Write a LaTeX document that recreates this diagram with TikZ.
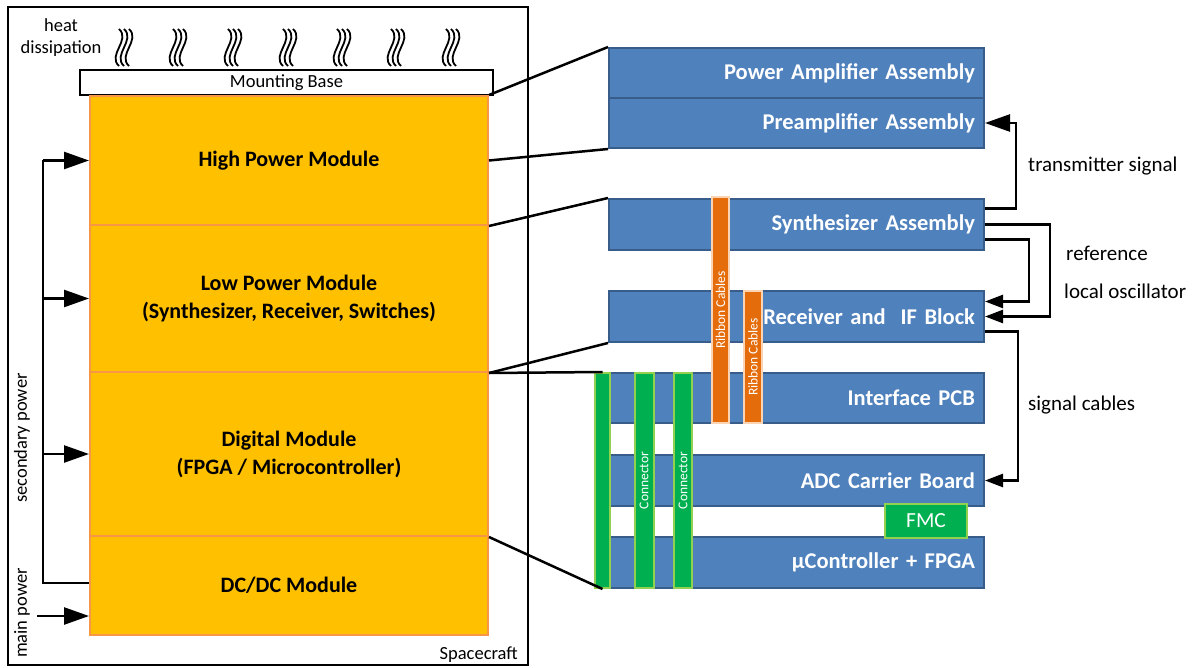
\documentclass[tikz,border=0pt]{standalone}
\usepackage{fontspec}
\setmainfont{Carlito}
\usetikzlibrary{arrows.meta}
\definecolor{modfill}{HTML}{FFC000}
\definecolor{modline}{HTML}{F79646}
\definecolor{boardfill}{HTML}{4F81BD}
\definecolor{boardline}{HTML}{385D8A}
\definecolor{confill}{HTML}{00B050}
\definecolor{conline}{HTML}{92D050}
\definecolor{ribfill}{HTML}{E46C0A}
\definecolor{ribline}{HTML}{FBD4B4}
\begin{document}
\begin{tikzpicture}[x=1pt,y=-1pt,
  module/.style={draw=modline, fill=modfill, line width=2pt, minimum width=398pt, inner sep=0pt, align=center, font=\bfseries\fontsize{22}{28}\selectfont},
  board/.style={draw=boardline, fill=boardfill, line width=2pt, text width=357pt, align=right, inner xsep=9pt, inner ysep=0pt, minimum height=50pt, text=white, font=\bfseries\fontsize{22.5}{26}\selectfont},
  conbar/.style={draw=conline, fill=confill, line width=2pt, minimum height=215pt, inner sep=0pt},
  ribbar/.style={draw=ribline, fill=ribfill, line width=2pt, inner sep=0pt},
  rottext/.style={rotate=90, text=white, inner sep=0pt, font=\fontsize{13.5}{16}\selectfont},
  wire/.style={line width=2.5pt},
  arrL/.style={wire, -{Triangle[length=25pt,width=17pt]}},
  arrS/.style={wire, -{Triangle[length=18pt,width=13pt]}},
  lbl/.style={inner sep=0pt, font=\fontsize{21}{24}\selectfont},
  smalllbl/.style={inner sep=0pt, align=center, font=\fontsize{18.5}{22}\selectfont},
  heatline/.style={line width=1.8pt}
]
\useasboundingbox (0,0) rectangle (1193,668);

% spacecraft box
\node[draw, line width=1.5pt, minimum width=520pt, minimum height=658pt, inner sep=0pt] (sc) at (268,336) {};
\node[smalllbl, anchor=base east] (sclbl) at (518,659) {Spacecraft};

% heat dissipation
\node[smalllbl] (heat) at (61,38) {heat\\dissipation};
\foreach \gx in {124,178,233,288,342,396,451}
  \foreach \d in {-5,0,5}
    \draw[heatline] (\gx+\d,29) .. controls (\gx+\d+12,40) and (\gx+\d-12,55) .. (\gx+\d,66);

% mounting base
\node[draw, line width=1.5pt, fill=white, minimum width=413pt, minimum height=25pt, inner sep=0pt, font=\fontsize{18.5}{22}\selectfont] (mb) at (286.5,82.5) {Mounting Base};

% modules
\node[module, minimum height=129pt] (hpm) at (289,160.5) {High Power Module};
\node[module, minimum height=147pt] (lpm) at (289,298.5) {Low Power Module\\(Synthesizer, Receiver, Switches)};
\node[module, minimum height=164pt] (dm) at (289,454) {Digital Module\\(FPGA / Microcontroller)};
\node[module, minimum height=99pt] (dc) at (289,585.5) {DC/DC Module};

% power distribution
\coordinate (bt) at (43,160.5);
\coordinate (bb) at (43,583);
\coordinate (mp) at (37,616);
\draw[wire] (bt) -- (bb) -- (bb -| dc.west);
\draw[arrL] (bt) -- (hpm.west);
\draw[arrL] (bt |- lpm.west) -- (lpm.west);
\draw[arrL] (bt |- dm.west) -- (dm.west);
\draw[arrL] (mp) -- (mp -| dc.west);
\node[smalllbl, rotate=90] (secp) at (22,438) {secondary power};
\node[smalllbl, rotate=90] (mainp) at (22,613) {main power};

% boards
\node[board] (pa) at (796.5,73) {Power Amplifier Assembly};
\node[board] (pre) at (796.5,123) {Preamplifier Assembly};
\node[board, minimum height=51pt] (syn) at (796.5,224.5) {Synthesizer Assembly};
\node[board, minimum height=51pt] (rx) at (796.5,316.5) {Receiver and\ \ IF Block};
\node[board] (ifp) at (796.5,398) {Interface PCB};
\node[board, minimum height=51pt] (adc) at (796.5,480.5) {ADC Carrier Board};
\node[board, minimum height=51pt] (uc) at (796.5,562.5) {µController + FPGA};

% ribbon cables
\node[ribbar, minimum width=17pt, minimum height=226pt] (rib1) at (720.5,310) {};
\node[rottext] (rib1t) at (rib1) {Ribbon Cables};
\node[ribbar, minimum width=18pt, minimum height=132pt] (rib2) at (753,357) {};
\node[rottext] (rib2t) at (rib2) {Ribbon Cables};

% connectors
\node[conbar, minimum width=15pt] (conL) at (602.5,480.5) {};
\node[conbar, minimum width=19pt] (con1) at (644,480.5) {};
\node[rottext] (con1t) at (con1) {Connector};
\node[conbar, minimum width=18pt] (con2) at (683,480.5) {};
\node[rottext] (con2t) at (con2) {Connector};

% FMC
\node[draw=conline, fill=confill, line width=2pt, minimum width=82pt, minimum height=34pt, inner sep=0pt, text=white, font=\fontsize{21.5}{24}\selectfont] (fmc) at (926,521) {FMC};

% module to board lines
\draw[wire] (hpm.north east) -- (pa.north west);
\draw[wire] (hpm.east) -- (pre.south west);
\draw[wire] (hpm.south east) -- (syn.north west);
\draw[wire] (lpm.south east) -- (rx.south west);
\draw[wire] (lpm.south east) -- (conL.north);
\draw[wire] (dm.south east) -- (conL.south);

% signal arrows
\draw[arrL] ([yshift=16pt]syn.east) -- ++(31,0) |- (pre.east);
\draw[arrS] (syn.east) -- ++(65,0) |- (rx.east);
\draw[arrS] ([yshift=-15pt]syn.east) -- ++(44,0) |- ([yshift=15pt]rx.east);
\draw[arrS] ([yshift=-15pt]rx.east) -- ++(33,0) |- (adc.east);

\node[lbl, anchor=west] (tx) at (1028,166) {transmitter signal};
\node[lbl, anchor=west] (ref) at (1066,253) {reference};
\node[lbl, anchor=west] (lo) at (1064,291) {local oscillator};
\node[lbl, anchor=west] (sig) at (1028,405) {signal cables};
\end{tikzpicture}
\end{document}
